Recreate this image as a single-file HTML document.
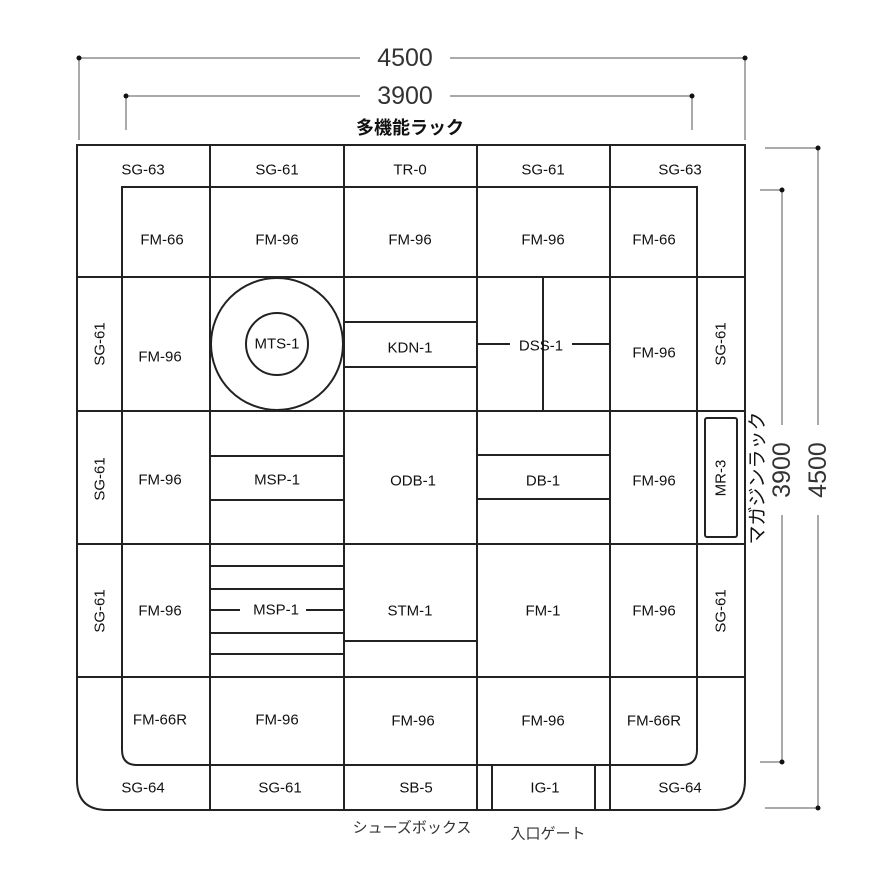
<!DOCTYPE html>
<html><head><meta charset="utf-8">
<style>
html,body{margin:0;padding:0;background:#fff;}
svg{display:block;}
text{font-family:"Liberation Sans","Noto Sans CJK JP",sans-serif;fill:#111;}
.l{font-size:15px;text-anchor:middle;dominant-baseline:central;}
.d{font-size:25px;fill:#333;text-anchor:middle;dominant-baseline:central;}
</style></head><body>
<svg width="880" height="880" viewBox="0 0 880 880" xmlns="http://www.w3.org/2000/svg">
<g stroke="#aaa" stroke-width="2" fill="none">
<line x1="79" y1="58" x2="360" y2="58"/><line x1="450" y1="58" x2="745" y2="58"/>
<line x1="79" y1="58" x2="79" y2="140"/><line x1="745" y1="58" x2="745" y2="140"/>
<line x1="126" y1="96" x2="360" y2="96"/><line x1="450" y1="96" x2="692" y2="96"/>
<line x1="126" y1="96" x2="126" y2="130"/><line x1="692" y1="96" x2="692" y2="130"/>
<line x1="818" y1="148" x2="818" y2="425"/><line x1="818" y1="515" x2="818" y2="808"/>
<line x1="765" y1="148" x2="818" y2="148"/><line x1="765" y1="808" x2="818" y2="808"/>
<line x1="782" y1="190" x2="782" y2="425"/><line x1="782" y1="515" x2="782" y2="762"/>
<line x1="760" y1="190" x2="782" y2="190"/><line x1="760" y1="762" x2="782" y2="762"/>
</g>
<g fill="#111">
<circle cx="79" cy="58" r="2.5"/><circle cx="745" cy="58" r="2.5"/>
<circle cx="126" cy="96" r="2.5"/><circle cx="692" cy="96" r="2.5"/>
<circle cx="818" cy="148" r="2.5"/><circle cx="818" cy="808" r="2.5"/>
<circle cx="782" cy="190" r="2.5"/><circle cx="782" cy="762" r="2.5"/>
</g>
<text class="d" x="405" y="58">4500</text>
<text class="d" x="405" y="96">3900</text>
<text x="410" y="128" style="font-size:18px;font-weight:bold;text-anchor:middle;dominant-baseline:central">多機能ラック</text>
<text class="d" transform="translate(818,470) rotate(-90)">4500</text>
<text class="d" transform="translate(782,470) rotate(-90)">3900</text>
<text transform="translate(758,478) rotate(-90)" style="font-size:19px;text-anchor:middle;dominant-baseline:central">マガジンラック</text>

<g stroke="#222" stroke-width="2" fill="none">
<path d="M77 145 H745 V780 Q745 810 715 810 H107 Q77 810 77 780 Z"/>
<path d="M122 187 H697 V750 Q697 765 682 765 H137 Q122 765 122 750 Z"/>
<line x1="77" y1="277" x2="745" y2="277"/>
<line x1="77" y1="411" x2="745" y2="411"/>
<line x1="77" y1="544" x2="745" y2="544"/>
<line x1="77" y1="677" x2="745" y2="677"/>
<line x1="210" y1="145" x2="210" y2="810"/>
<line x1="344" y1="145" x2="344" y2="810"/>
<line x1="477" y1="145" x2="477" y2="810"/>
<line x1="610" y1="145" x2="610" y2="810"/>
<circle cx="277" cy="344" r="66"/>
<circle cx="277" cy="344" r="31"/>
<line x1="344" y1="322" x2="477" y2="322"/><line x1="344" y1="367" x2="477" y2="367"/>
<line x1="543" y1="277" x2="543" y2="411"/>
<line x1="477" y1="344" x2="510" y2="344"/><line x1="572" y1="344" x2="610" y2="344"/>
<line x1="210" y1="456" x2="344" y2="456"/><line x1="210" y1="500" x2="344" y2="500"/>
<line x1="477" y1="455" x2="610" y2="455"/><line x1="477" y1="499" x2="610" y2="499"/>
<rect x="705" y="418" width="32" height="119" rx="2"/>
<line x1="210" y1="566" x2="344" y2="566"/><line x1="210" y1="589" x2="344" y2="589"/>
<line x1="210" y1="610" x2="240" y2="610"/><line x1="306" y1="610" x2="344" y2="610"/>
<line x1="210" y1="633" x2="344" y2="633"/><line x1="210" y1="654" x2="344" y2="654"/>
<line x1="344" y1="641" x2="477" y2="641"/>
<line x1="492" y1="765" x2="492" y2="810"/><line x1="595" y1="765" x2="595" y2="810"/>
</g>

<g class="l">
<text class="l" x="143" y="170">SG-63</text><text class="l" x="277" y="170">SG-61</text>
<text class="l" x="410" y="170">TR-0</text><text class="l" x="543" y="170">SG-61</text>
<text class="l" x="680" y="170">SG-63</text>
<text class="l" x="162" y="240">FM-66</text><text class="l" x="277" y="240">FM-96</text>
<text class="l" x="410" y="240">FM-96</text><text class="l" x="543" y="240">FM-96</text>
<text class="l" x="654" y="240">FM-66</text>
<text class="l" x="160" y="357">FM-96</text><text class="l" x="277" y="344">MTS-1</text>
<text class="l" x="410" y="348">KDN-1</text><text class="l" x="541" y="346">DSS-1</text>
<text class="l" x="654" y="353">FM-96</text>
<text class="l" x="160" y="480">FM-96</text><text class="l" x="277" y="480">MSP-1</text>
<text class="l" x="413" y="481">ODB-1</text><text class="l" x="543" y="481">DB-1</text>
<text class="l" x="654" y="481">FM-96</text>
<text class="l" x="160" y="611">FM-96</text><text class="l" x="276" y="610">MSP-1</text>
<text class="l" x="410" y="611">STM-1</text><text class="l" x="543" y="611">FM-1</text>
<text class="l" x="654" y="611">FM-96</text>
<text class="l" x="160" y="720">FM-66R</text><text class="l" x="277" y="720">FM-96</text>
<text class="l" x="413" y="721">FM-96</text><text class="l" x="543" y="721">FM-96</text>
<text class="l" x="654" y="721">FM-66R</text>
<text class="l" x="143" y="788">SG-64</text><text class="l" x="280" y="788">SG-61</text>
<text class="l" x="416" y="788">SB-5</text><text class="l" x="545" y="788">IG-1</text>
<text class="l" x="680" y="788">SG-64</text>
<text class="l" transform="translate(100,344) rotate(-90)">SG-61</text>
<text class="l" transform="translate(100,479) rotate(-90)">SG-61</text>
<text class="l" transform="translate(100,611) rotate(-90)">SG-61</text>
<text class="l" transform="translate(721,344) rotate(-90)">SG-61</text>
<text class="l" transform="translate(721,611) rotate(-90)">SG-61</text>
<text class="l" transform="translate(721,478) rotate(-90)">MR-3</text>
</g>
<text x="412" y="828" style="font-size:15px;text-anchor:middle;dominant-baseline:central;fill:#333">シューズボックス</text>
<text x="548" y="834" style="font-size:15px;text-anchor:middle;dominant-baseline:central;fill:#333">入口ゲート</text>
</svg>
</body></html>
